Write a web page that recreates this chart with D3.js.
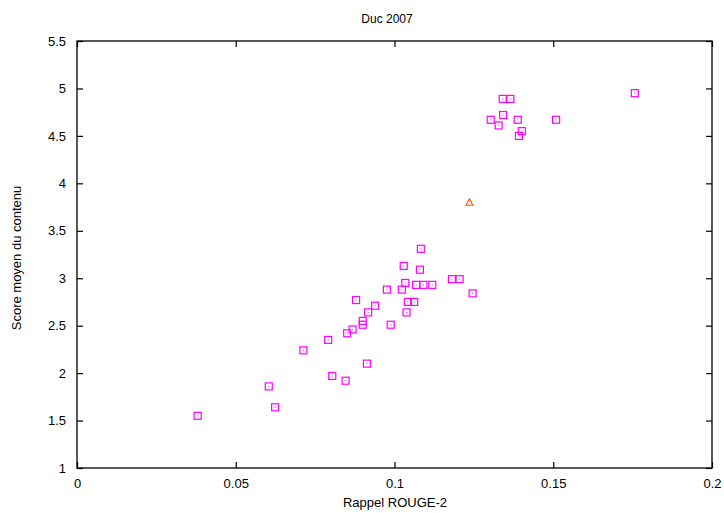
<!DOCTYPE html>
<html lang="fr">
<head>
<meta charset="UTF-8">
<title>Duc 2007</title>
<script src="https://d3js.org/d3.v7.min.js"></script>
<style>
  body { margin: 0; background: #fff; }
  text { font-family: "Liberation Sans", Arial, sans-serif; fill: #000; }
</style>
</head>
<body>
<script>
// systemes (carres magenta)
var rappel = [0.1341, 0.1365, 0.1342, 0.1303, 0.1328, 0.1388, 0.1401, 0.1392, 0.1509, 0.1757,
  0.1083, 0.1029, 0.1080, 0.1034, 0.1181, 0.1205, 0.0976, 0.1023, 0.1068, 0.1091, 0.1119,
  0.1246, 0.0879, 0.0939, 0.1042, 0.1062, 0.0917, 0.1038, 0.0900, 0.0900, 0.0988, 0.0868,
  0.0851, 0.0791, 0.0713, 0.0913, 0.0804, 0.0846, 0.0604, 0.0624, 0.0380];
var score = [4.89, 4.89, 4.72, 4.67, 4.61, 4.67, 4.55, 4.50, 4.67, 4.95,
  3.31, 3.13, 3.09, 2.95, 2.99, 2.99, 2.88, 2.88, 2.93, 2.93, 2.93,
  2.84, 2.77, 2.71, 2.75, 2.75, 2.64, 2.64, 2.55, 2.51, 2.51, 2.46,
  2.42, 2.35, 2.24, 2.10, 1.97, 1.92, 1.86, 1.64, 1.55];
// baseline (triangle)
var baseRappel = [0.1236];
var baseScore = [3.80];

var xTicks = [0, 0.05, 0.1, 0.15, 0.2];
var yTicks = [1, 1.5, 2, 2.5, 3, 3.5, 4, 4.5, 5, 5.5];

var width = 724, height = 513;
var mLeft = 77, mRight = 712, mTop = 41, mBottom = 468;

var x = d3.scaleLinear().domain([0, 0.2]).range([mLeft, mRight]);
var y = d3.scaleLinear().domain([1, 5.5]).range([mBottom, mTop]);

var svg = d3.select("body").append("svg")
    .attr("width", width).attr("height", height);

function fmt(d) { return String(+d.toFixed(2)); }

// axes, ticks pointing inward, mirrored
svg.append("g").attr("transform", "translate(0," + mBottom + ")")
    .call(d3.axisBottom(x).tickValues(xTicks).tickFormat(fmt).tickSizeInner(-6).tickSizeOuter(0).tickPadding(11))
    .call(function(g) { g.select(".domain").remove(); g.selectAll("text").style("font-size", "13px"); });
svg.append("g").attr("transform", "translate(0," + mTop + ")")
    .call(d3.axisTop(x).tickValues(xTicks).tickFormat("").tickSizeInner(-6).tickSizeOuter(0))
    .call(function(g) { g.select(".domain").remove(); });
svg.append("g").attr("transform", "translate(" + mLeft + ",0)")
    .call(d3.axisLeft(y).tickValues(yTicks).tickFormat(fmt).tickSizeInner(-6).tickSizeOuter(0).tickPadding(11))
    .call(function(g) { g.select(".domain").remove(); g.selectAll("text").style("font-size", "13px"); });
svg.append("g").attr("transform", "translate(" + mRight + ",0)")
    .call(d3.axisRight(y).tickValues(yTicks).tickFormat("").tickSizeInner(-6).tickSizeOuter(0))
    .call(function(g) { g.select(".domain").remove(); });

svg.selectAll(".tick line").attr("stroke", "#000").attr("stroke-width", 1.2);

svg.append("rect")
    .attr("x", mLeft).attr("y", mTop)
    .attr("width", mRight - mLeft).attr("height", mBottom - mTop)
    .attr("fill", "none").attr("stroke", "#000").attr("stroke-width", 1.3);

// points
var pts = svg.append("g").selectAll("g").data(rappel).enter().append("g")
    .attr("transform", function(d, i) { return "translate(" + x(d) + "," + y(score[i]) + ")"; });
pts.append("rect")
    .attr("x", -3.5).attr("y", -3.5).attr("width", 7).attr("height", 7)
    .attr("fill", "none").attr("stroke", "#ff00ff").attr("stroke-width", 1.2);
pts.append("rect")
    .attr("x", -0.5).attr("y", -0.5).attr("width", 1).attr("height", 1)
    .attr("fill", "#ff00ff");

svg.append("g").selectAll("path").data(baseRappel).enter().append("path")
    .attr("transform", function(d, i) { return "translate(" + x(d) + "," + y(baseScore[i]) + ")"; })
    .attr("d", "M0,-3.5L3.5,3L-3.5,3Z")
    .attr("fill", "none").attr("stroke", "#ff5000").attr("stroke-width", 1.1);

// titres
svg.append("text").attr("x", 387).attr("y", 23)
    .attr("text-anchor", "middle").style("font-size", "12px").text("Duc 2007");
svg.append("text").attr("x", 395).attr("y", 507)
    .attr("text-anchor", "middle").style("font-size", "13px").text("Rappel ROUGE-2");
svg.append("text")
    .attr("transform", "translate(21,258) rotate(-90)")
    .attr("text-anchor", "middle").style("font-size", "13px").text("Score moyen du contenu");
</script>
</body>
</html>
